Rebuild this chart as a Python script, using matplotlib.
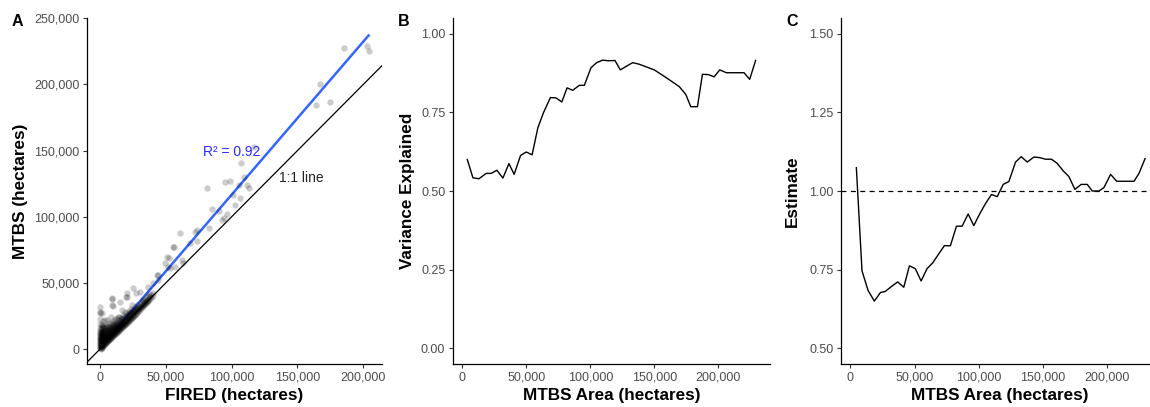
import numpy as np
import matplotlib
matplotlib.use("Agg")
import matplotlib.pyplot as plt

plt.rcParams['font.family'] = ['Liberation Sans', 'DejaVu Sans']

# ---- panel A: FIRED vs MTBS burned area (thousands of hectares)
scatter_k = [
    # dense cloud near the origin
    (0.3, 0.5), (0.3, 1.5), (0.3, 2.5), (0.3, 3.5), (0.3, 4.5), (0.3, 5.5), (0.3, 6.5), (0.3, 7.5),
    (0.3, 8.5), (0.3, 9.5), (0.3, 11), (0.3, 12.5), (0.3, 14), (0.3, 16), (0.3, 19), (0.3, 23), (0.3, 27),
    (1.2, 0.8), (1.2, 2), (1.2, 3), (1.2, 4.2), (1.2, 5.1), (1.2, 6.3), (1.2, 7.4), (1.2, 8.6),
    (1.2, 10), (1.2, 11.5), (1.2, 13), (1.2, 15.5), (1.2, 18),
    (2.5, 2.2), (2.5, 3.4), (2.5, 4.5), (2.5, 5.8), (2.5, 7), (2.5, 8.3), (2.5, 9.6), (2.5, 11),
    (2.5, 12.6), (2.5, 14.5), (2.5, 17), (2.5, 21),
    (4, 3.6), (4, 4.8), (4, 6), (4, 7.3), (4, 8.6), (4, 10), (4, 11.5), (4, 13), (4, 15), (4, 17.5),
    (5.5, 5), (5.5, 6.3), (5.5, 7.5), (5.5, 8.8), (5.5, 10.2), (5.5, 11.7), (5.5, 13.3), (5.5, 15),
    (5.5, 17.5), (5.5, 22),
    (7, 6.5), (7, 7.8), (7, 9), (7, 10.4), (7, 11.8), (7, 13.4), (7, 15.2), (7, 17.4), (7, 20),
    (8.5, 8), (8.5, 9.3), (8.5, 10.6), (8.5, 12), (8.5, 13.5), (8.5, 15.1), (8.5, 17), (8.5, 19.5), (8.5, 24),
    (10, 9.5), (10, 10.8), (10, 12.1), (10, 13.5), (10, 15), (10, 16.7), (10, 18.6), (10, 21),
    (11.5, 11), (11.5, 12.3), (11.5, 13.6), (11.5, 15), (11.5, 16.5), (11.5, 18.2), (11.5, 20.3), (11.5, 23),
    (13, 12.5), (13, 13.8), (13, 15.1), (13, 16.6), (13, 18.2), (13, 20), (13, 22.4),
    (14.5, 14), (14.5, 15.3), (14.5, 16.7), (14.5, 18.2), (14.5, 19.9), (14.5, 21.8), (14.5, 24.5),
    (16, 15.5), (16, 16.8), (16, 18.3), (16, 19.9), (16, 21.6), (16, 23.6),
    (17.5, 17), (17.5, 18.4), (17.5, 19.9), (17.5, 21.5), (17.5, 23.3), (17.5, 25.8),
    (19, 18.5), (19, 19.9), (19, 21.4), (19, 23.1), (19, 25), (19, 28),
    (20.5, 20), (20.5, 21.4), (20.5, 23), (20.5, 24.8), (20.5, 26.9),
    (22, 21.5), (22, 23), (22, 24.6), (22, 26.4), (22, 28.6),
    (23.5, 23), (23.5, 24.5), (23.5, 26.2), (23.5, 28.1), (23.5, 30.5),
    (25, 24.5), (25, 26.1), (25, 27.8), (25, 29.8),
    (26.5, 26), (26.5, 27.7), (26.5, 29.5), (26.5, 31.6),
    (28, 27.6), (28, 29.3), (28, 31.2), (28, 33.5),
    (29.5, 29.1), (29.5, 30.9), (29.5, 32.9),
    (31, 30.7), (31, 32.5), (31, 34.6),
    (32.5, 32.2), (32.5, 34.1), (32.5, 36.3),
    (34, 33.8), (34, 35.8), (34, 38),
    (35.5, 35.3), (35.5, 37.4), (35.5, 39.8),
    (37, 36.9), (37, 39.1), (37, 41.6),
    (38.5, 38.5), (38.5, 40.8),
    (40, 40.2), (40, 42.5),
    # second, offset layer of the cloud
    (0.7, 0.2), (0.7, 1), (0.7, 2), (0.7, 3), (0.7, 4), (0.7, 5), (0.7, 6), (0.7, 7), (0.7, 8),
    (0.7, 9), (0.7, 10), (0.7, 11.5), (0.7, 13), (0.7, 15),
    (1.8, 1.4), (1.8, 2.6), (1.8, 3.7), (1.8, 4.8), (1.8, 5.9), (1.8, 7), (1.8, 8.1), (1.8, 9.3),
    (1.8, 10.7), (1.8, 12.2), (1.8, 14), (1.8, 16.5),
    (3.2, 2.9), (3.2, 4), (3.2, 5.2), (3.2, 6.5), (3.2, 7.7), (3.2, 9), (3.2, 10.3), (3.2, 11.8),
    (3.2, 13.5), (3.2, 16),
    (4.7, 4.3), (4.7, 5.5), (4.7, 6.8), (4.7, 8), (4.7, 9.4), (4.7, 10.8), (4.7, 12.3), (4.7, 14), (4.7, 16.5),
    (6.2, 5.8), (6.2, 7), (6.2, 8.3), (6.2, 9.6), (6.2, 11), (6.2, 12.5), (6.2, 14.2), (6.2, 16.3),
    (7.7, 7.3), (7.7, 8.6), (7.7, 9.9), (7.7, 11.2), (7.7, 12.7), (7.7, 14.3), (7.7, 16.2),
    (9.2, 8.8), (9.2, 10.1), (9.2, 11.4), (9.2, 12.8), (9.2, 14.3), (9.2, 16), (9.2, 18),
    (10.7, 10.3), (10.7, 11.6), (10.7, 12.9), (10.7, 14.3), (10.7, 15.8), (10.7, 17.5),
    (12.2, 11.8), (12.2, 13.1), (12.2, 14.4), (12.2, 15.8), (12.2, 17.4), (12.2, 19.2),
    (13.7, 13.3), (13.7, 14.6), (13.7, 16), (13.7, 17.4), (13.7, 19),
    (15.2, 14.8), (15.2, 16.1), (15.2, 17.5), (15.2, 19), (15.2, 20.7),
    (16.7, 16.3), (16.7, 17.6), (16.7, 19.1), (16.7, 20.7), (16.7, 22.4),
    (18.2, 17.8), (18.2, 19.2), (18.2, 20.7), (18.2, 22.3),
    (19.7, 19.3), (19.7, 20.7), (19.7, 22.2), (19.7, 23.9),
    (21.2, 20.8), (21.2, 22.2), (21.2, 23.8), (21.2, 25.6),
    (22.7, 22.3), (22.7, 23.8), (22.7, 25.4), (22.7, 27.3),
    (24.2, 23.8), (24.2, 25.3), (24.2, 27),
    (25.7, 25.3), (25.7, 26.9), (25.7, 28.6),
    (27.2, 26.8), (27.2, 28.5), (27.2, 30.3),
    (28.7, 28.4), (28.7, 30.1), (30.2, 29.9), (30.2, 31.7), (31.7, 31.5), (31.7, 33.3),
    (33.2, 33), (33.2, 35), (34.7, 34.6), (34.7, 36.6), (36.2, 36.1), (36.2, 38.2),
    # scattered points above the cloud
    (0, 32), (0, 28), (8.9, 38.3), (8.9, 33.3), (20.3, 42), (20.3, 39.5), (25.3, 45.8), (27, 42),
    (30.4, 43.3), (36.7, 47), (13.9, 24.4), (3.8, 21.9), (1.3, 18), (16.5, 29.5), (24, 33.2),
    (33, 37), (38, 39.5), (10.1, 32.5), (15.2, 35.7), (19.8, 39.5), (1.3, 26.9), (9.4, 37.8),
    # larger fires
    (40.5, 49.6), (44.3, 55.9), (43, 55.9), (44.3, 52.1), (49.4, 64.7), (50.7, 69.7), (52.7, 68.5),
    (53.2, 60.9), (57, 62.2), (62.1, 67.2), (63.3, 64.7), (51.9, 62.2), (56.3, 76.8), (55.7, 76.8),
    (60.8, 87.4), (68.4, 79.8), (72.2, 88.6), (74, 81.8), (73.5, 89.9), (82.4, 91.6),
    (81.1, 121.8), (84.9, 105.5), (90, 104.4), (92.5, 97.9), (94.3, 98.7), (96.8, 102.4),
    (102.7, 108.8), (106.5, 113.8), (101.3, 116.3), (105.2, 123.9), (112, 123.9), (113.3, 121.4),
    (95, 125.9), (98.9, 127.1), (109, 129.7), (107, 140.7), (117.1, 152.8),
    (164.3, 184.8), (167.3, 200), (174.9, 186.8), (185, 227.8), (202.8, 229), (204, 225.3),
]
fired_ha = [p[0] * 1000 for p in scatter_k]
mtbs_ha = [p[1] * 1000 for p in scatter_k]

fit_x = [0, 204000]
fit_y = [1000, 237000]
r2_label = 'R\u00b2 = 0.92'

# ---- panel B / C: moving window results
area_b = [3.9, 8.3, 13, 18.7, 22.6, 27, 31.7, 36.4, 40.5, 45.5, 49.9, 54.5, 59, 63.4, 68.8, 73.2,
          77.7, 81.8, 86.2, 91.4, 95.3, 100.5, 104.9, 109.6, 114.3, 119.2, 123.4, 128.3, 133,
          138.2, 143.4, 149.9, 156.4, 162.9, 169.4, 174.5, 178.4, 183.6, 187.5, 192.2, 196.6,
          201, 206.2, 210.9, 220, 224.4, 229]
var_explained = [0.60, 0.542, 0.539, 0.556, 0.556, 0.566, 0.541, 0.587, 0.553, 0.613, 0.624, 0.615,
                 0.701, 0.749, 0.797, 0.796, 0.783, 0.828, 0.82, 0.836, 0.836, 0.892, 0.908, 0.916,
                 0.914, 0.915, 0.885, 0.897, 0.908, 0.903, 0.895, 0.885, 0.868, 0.85, 0.832, 0.807,
                 0.768, 0.768, 0.871, 0.87, 0.863, 0.885, 0.876, 0.876, 0.876, 0.855, 0.915]

area_c = [4.7, 9.1, 13.8, 18.7, 23.4, 27.3, 31.9, 36.9, 41.6, 46, 50.6, 55.1, 59.7, 64.2, 68.8,
          73.2, 77.9, 82.6, 87, 91.7, 96.1, 100.8, 105.2, 109.9, 114.3, 119, 123.4, 128.6, 133,
          137.7, 142.9, 147.5, 152, 156.6, 161, 165.7, 170.1, 174.8, 179.7, 184.4, 188.3, 193.5,
          197.4, 202.6, 207.3, 220.8, 224.7, 229.4]
estimate = [1.074, 0.746, 0.684, 0.65, 0.677, 0.681, 0.696, 0.711, 0.694, 0.762, 0.753, 0.714,
            0.753, 0.772, 0.80, 0.826, 0.826, 0.888, 0.888, 0.927, 0.89, 0.928, 0.96, 0.989, 0.982,
            1.021, 1.03, 1.092, 1.109, 1.092, 1.108, 1.106, 1.101, 1.101, 1.088, 1.064, 1.046,
            1.005, 1.021, 1.021, 1.0, 1.0, 1.011, 1.053, 1.031, 1.031, 1.056, 1.103]
area_b = [a * 1000 for a in area_b]
area_c = [a * 1000 for a in area_c]


def style_axis(ax):
    for side in ['top', 'right']:
        ax.spines[side].set_visible(False)
    for side in ['left', 'bottom']:
        ax.spines[side].set_linewidth(0.9)
        ax.spines[side].set_color('black')
    ax.tick_params(length=3, width=0.8, color='#333333', labelsize=9, labelcolor='#4D4D4D', pad=2.5)


def thousands(v, pos):
    return f'{int(round(v)):,}'


fig = plt.figure(figsize=(11.5, 4.07), dpi=100)
W, H = 1150, 407

# panel A
axA = fig.add_axes([87 / W, 43 / H, 295 / W, 346 / H])
style_axis(axA)
axA.set_xlim(-9900, 214200)
axA.set_ylim(-11300, 250200)
axA.plot([-20000, 260000], [-20000, 260000], color='black', lw=0.9, zorder=2)
axA.plot(fit_x, fit_y, color='#3366FF', lw=1.8, zorder=1)
axA.scatter(fired_ha, mtbs_ha, s=21, color='black', alpha=0.2, linewidths=0, zorder=3)
axA.text(100000, 149000, r2_label, color='#2a2aff', fontsize=10, ha='center', va='center')
axA.text(153000, 129000, '1:1 line', color='#222222', fontsize=10, ha='center', va='center')
axA.set_xticks([0, 50000, 100000, 150000, 200000])
axA.set_yticks([0, 50000, 100000, 150000, 200000, 250000])
axA.xaxis.set_major_formatter(plt.FuncFormatter(thousands))
axA.yaxis.set_major_formatter(plt.FuncFormatter(thousands))
axA.set_xlabel('FIRED (hectares)', fontsize=12.3, fontweight='bold', va='center')
axA.set_ylabel('MTBS (hectares)', fontsize=12.3, fontweight='bold', va='center')
axA.xaxis.set_label_coords(0.5, -0.09)
axA.yaxis.set_label_coords(-0.227, 0.5)

# panel B
axB = fig.add_axes([453 / W, 43 / H, 317 / W, 346 / H])
style_axis(axB)
axB.plot(area_b, var_explained, color='black', lw=1.0)
axB.set_xlim(-7250, 240250)
axB.set_ylim(-0.05, 1.05)
axB.set_xticks([0, 50000, 100000, 150000, 200000])
axB.set_yticks([0, 0.25, 0.5, 0.75, 1.0])
axB.xaxis.set_major_formatter(plt.FuncFormatter(thousands))
axB.yaxis.set_major_formatter(plt.FormatStrFormatter('%.2f'))
axB.set_xlabel('MTBS Area (hectares)', fontsize=12.3, fontweight='bold', va='center')
axB.set_ylabel('Variance Explained', fontsize=12.3, fontweight='bold', va='center')
axB.xaxis.set_label_coords(0.5, -0.09)
axB.yaxis.set_label_coords(-0.142, 0.5)

# panel C
axC = fig.add_axes([841 / W, 43 / H, 318 / W, 346 / H])
style_axis(axC)
axC.axhline(1.0, color='black', lw=0.9, dashes=(4, 3.5))
axC.plot(area_c, estimate, color='black', lw=1.0)
axC.set_xlim(-7250, 240250)
axC.set_ylim(0.45, 1.55)
axC.set_xticks([0, 50000, 100000, 150000, 200000])
axC.set_yticks([0.5, 0.75, 1.0, 1.25, 1.5])
axC.xaxis.set_major_formatter(plt.FuncFormatter(thousands))
axC.yaxis.set_major_formatter(plt.FormatStrFormatter('%.2f'))
axC.set_xlabel('MTBS Area (hectares)', fontsize=12.3, fontweight='bold', va='center')
axC.set_ylabel('Estimate', fontsize=12.3, fontweight='bold', va='center')
axC.xaxis.set_label_coords(0.5, -0.09)
axC.yaxis.set_label_coords(-0.153, 0.5)

# panel letters
for letter, xpix in [('A', 17), ('B', 404), ('C', 792)]:
    fig.text(xpix / W, 1 - 22 / H, letter, fontsize=11.5, fontweight='bold', ha='center', va='center')

fig.savefig('out.png', dpi=100)
